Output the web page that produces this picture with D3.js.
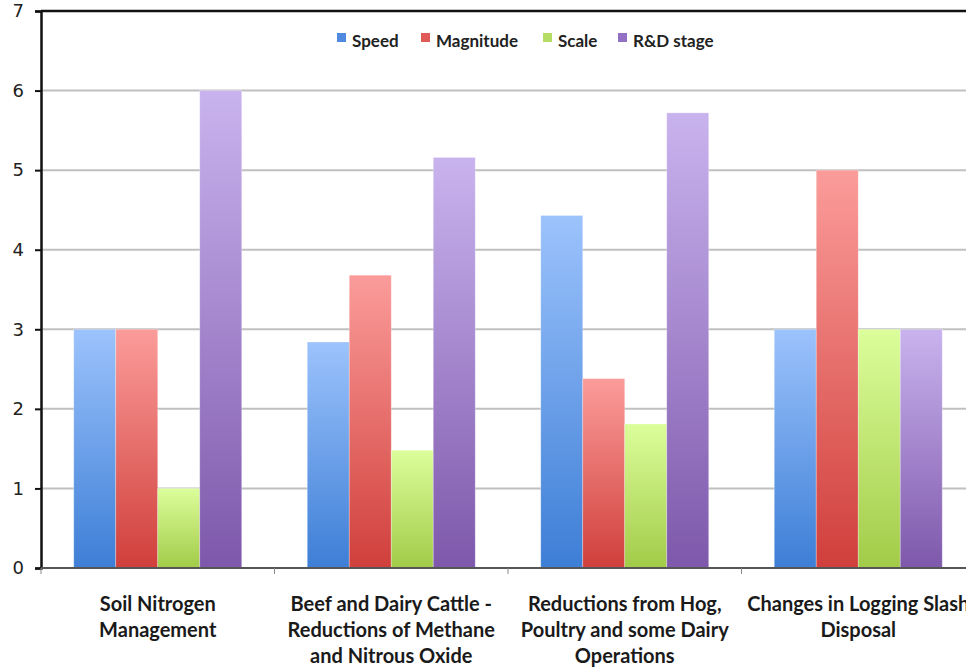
<!DOCTYPE html>
<html><head><meta charset="utf-8">
<script src="https://cdn.jsdelivr.net/npm/d3@7"></script>
<style>body{margin:0;background:#fff}svg{display:block}</style>
</head><body>
<svg id="c" width="966" height="668"></svg>
<script>
const categories = [
  ["Soil Nitrogen","Management"],
  ["Beef and Dairy Cattle -","Reductions of Methane","and Nitrous Oxide"],
  ["Reductions from Hog,","Poultry and some Dairy","Operations"],
  ["Changes in Logging Slash","Disposal"]
];
const seriesNames = ["Speed","Magnitude","Scale","R&D stage"];
const speed = [3, 2.84, 4.43, 3];
const magnitude = [3, 3.68, 2.38, 5];
const scale = [1, 1.48, 1.81, 3];
const rdStage = [6, 5.16, 5.72, 3];
const yTicks = [0,1,2,3,4,5,6,7];
const seriesValues = [speed, magnitude, scale, rdStage];
const colors = [
  ["#9cc3fc","#3d7ed6"],
  ["#fb9c9a","#d03f3b"],
  ["#dcfe9b","#a2cb48"],
  ["#c9b3ee","#7e58ab"]
];
const legendColors = ["#4f8ae0","#e05a57","#b5dd63","#9270c4"];

const svg = d3.select("#c");
const mLeft = 41, mTop = 11, mBottom = 568, mRight = 975;
const x = d3.scaleBand().domain(d3.range(categories.length)).range([mLeft, mRight]).paddingInner(0).paddingOuter(0);
const y = d3.scaleLinear().domain([0,7]).range([mBottom, mTop]);
const inner = d3.scaleBand().domain(d3.range(4)).range([0, x.bandwidth()]).paddingOuter(0.78).paddingInner(0);

const defs = svg.append("defs");
colors.forEach((c,i)=>{
  const g = defs.append("linearGradient").attr("id","g"+i).attr("x1",0).attr("y1",0).attr("x2",0).attr("y2",1);
  g.append("stop").attr("offset","0%").attr("stop-color",c[0]);
  g.append("stop").attr("offset","100%").attr("stop-color",c[1]);
});

// gridlines
svg.append("g").selectAll("line").data(yTicks.filter(d=>d>0 && d<7)).join("line")
  .attr("x1",mLeft).attr("x2",966).attr("y1",d=>y(d)).attr("y2",d=>y(d))
  .attr("stroke","#c0c0c0").attr("stroke-width",2);

// bars
const groups = svg.append("g").selectAll("g").data(categories).join("g")
  .attr("transform",(d,i)=>`translate(${x(i)},0)`);
groups.selectAll("rect").data((d,i)=>seriesValues.map((s,k)=>({k,v:s[i]}))).join("rect")
  .attr("x",d=>inner(d.k)).attr("width",inner.bandwidth())
  .attr("y",d=>y(d.v)).attr("height",d=>y(0)-y(d.v))
  .attr("fill",d=>`url(#g${d.k})`)
  .attr("stroke","rgba(255,255,255,0.35)").attr("stroke-width",0.8);

// top border
svg.append("line").attr("x1",mLeft).attr("x2",966).attr("y1",y(7)).attr("y2",y(7)).attr("stroke","#111").attr("stroke-width",2.5);

// y axis
const ya = d3.axisLeft(y).tickValues(yTicks).tickSize(6).tickPadding(11).tickFormat(d3.format("d"));
const yg = svg.append("g").attr("transform",`translate(${mLeft},0)`).call(ya);
yg.select(".domain").attr("stroke","#111").attr("stroke-width",2.5);
yg.selectAll(".tick line").attr("stroke","#111").attr("stroke-width",2);
yg.selectAll(".tick text").attr("font-family","DejaVu Sans, sans-serif").attr("font-size",18).attr("fill","#222");

// x axis line
svg.append("line").attr("x1",mLeft).attr("x2",966).attr("y1",mBottom).attr("y2",mBottom).attr("stroke","#555").attr("stroke-width",2);
svg.append("g").selectAll("line").data(d3.range(categories.length+1)).join("line")
  .attr("x1",i=>mLeft+i*x.bandwidth()).attr("x2",i=>mLeft+i*x.bandwidth())
  .attr("y1",mBottom).attr("y2",mBottom+6).attr("stroke","#888").attr("stroke-width",1);

// x labels
const lab = svg.append("g").selectAll("text").data(categories).join("text")
  .attr("text-anchor","middle").attr("font-family","Lato, 'Open Sans', sans-serif")
  .attr("font-weight","bold").attr("font-size",20).attr("fill","#1a1a1a");
lab.each(function(d,i){
  const t = d3.select(this);
  d.forEach((line,j)=>{
    t.append("tspan").attr("x",x(i)+x.bandwidth()/2).attr("y",611+j*26).text(line);
  });
});

// legend
const legendX = [337, 421, 543, 618];
const lg = svg.append("g").selectAll("g").data(seriesNames).join("g")
  .attr("transform",(d,i)=>`translate(${legendX[i]},0)`);
lg.append("rect").attr("x",0).attr("y",33).attr("width",9).attr("height",9).attr("fill",(d,i)=>legendColors[i]);
lg.append("text").attr("x",15).attr("y",47).text(d=>d)
  .attr("font-family","Lato, 'Open Sans', sans-serif").attr("font-weight","bold").attr("font-size",17).attr("fill","#222");
</script>
</body></html>
